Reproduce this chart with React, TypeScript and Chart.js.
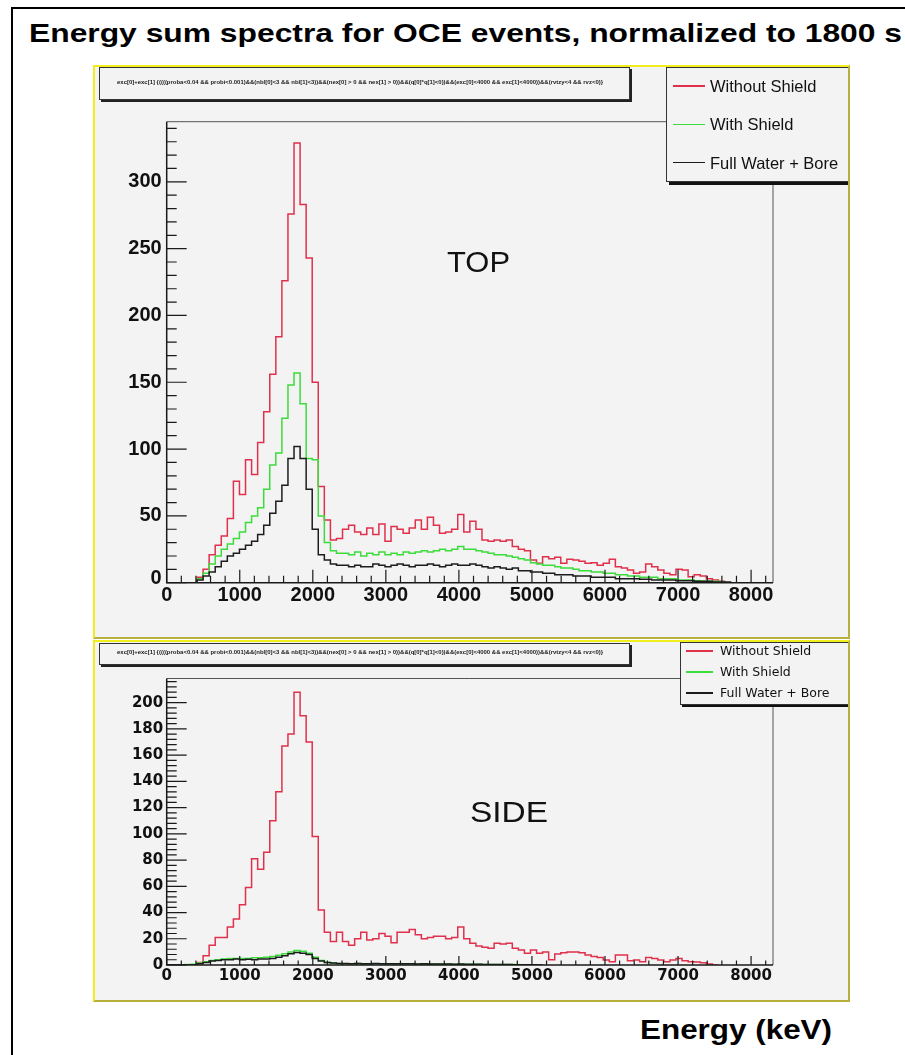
import React, { useEffect, useRef } from "react";
import { Chart, registerables } from "chart.js";

Chart.register(...registerables);

// ---------- data ----------
const BIN_WIDTH_KEV = 83;
const X_MAX = 8300;
const X_TICKS = [0, 1000, 2000, 3000, 4000, 5000, 6000, 7000, 8000];
const TOP_Y_TICKS = [0, 50, 100, 150, 200, 250, 300];
const SIDE_Y_TICKS = [0, 20, 40, 60, 80, 100, 120, 140, 160, 180, 200];
const TOP_Y_MAX = 345;
const SIDE_Y_MAX = 218.4;

const SERIES_NAMES = ["Without Shield", "With Shield", "Full Water + Bore"];
const SERIES_COLORS = ["#e0304c", "#3cdc3c", "#1c1c1c"];

const TITLE = "Energy sum spectra for OCE events, normalized to 1800 s";
const X_TITLE = "Energy (keV)";
const TOP_LABEL = "TOP";
const SIDE_LABEL = "SIDE";
const CUT_TEXT =
  "exc[0]+exc[1] {((((proba<0.04 && probi<0.001)&&(nbl[0]<3 && nbl[1]<3))&&(nex[0] > 0 && nex[1] > 0))&&(q[0]*q[1]<0))&&(exc[0]<4000 && exc[1]<4000))&&(rvtzy<4 && rvz<0)}";

// counts per 83 keV bin, starting at bin 0
const TOP_WITHOUT_SHIELD = [
  0, 0, 0, 0, 0, 4, 10, 21, 28, 35, 48, 76, 66, 92, 81, 105, 128, 156, 184, 226,
  276, 329, 283, 243, 150, 72, 47, 32, 33, 40, 43, 38, 36, 41, 36, 44, 31, 42, 40, 37,
  41, 47, 40, 49, 43, 37, 38, 40, 51, 38, 46, 40, 32, 31, 32, 31, 32, 27, 25, 24,
  17, 14.5, 19.5, 18, 19, 14.5, 17.5, 17, 16, 14.5, 15, 13, 14.5, 17.5, 12, 11, 9.5, 7, 8, 14,
  12, 9.5, 7, 6, 10, 9.5, 4.5, 6, 5, 3, 2, 1, 0,
];
const TOP_WITH_SHIELD = [
  0, 0, 0, 0, 0, 3, 7, 14, 20, 25, 29, 33, 38, 45, 50, 56, 70, 88, 97, 123,
  148, 157, 134, 93, 92, 50, 30, 24, 22, 22, 21, 23, 20, 22, 21, 23, 21, 22, 21, 23,
  22, 23, 24, 23, 24, 25, 24, 25, 27, 25, 25, 24, 23, 22, 21, 21, 20, 19, 18, 17,
  15, 14, 13, 13, 12, 11, 11, 10, 9, 9, 8, 8, 7, 7, 6, 6, 5, 5, 4, 4,
  4, 3, 3, 3, 2, 2, 2, 1.5, 1, 1, 1, 0.5, 0,
];
const TOP_FULL_WATER_BORE = [
  0, 0, 0, 0, 0, 2, 5, 8, 12, 16, 20, 22, 25, 28, 31, 36, 43, 52, 61, 73,
  93, 102, 93, 70, 40, 21, 17, 14, 13, 13, 12, 13, 12, 12, 14, 13, 12, 13, 14, 13,
  12, 13, 13, 14, 13, 12, 13, 14, 13, 13, 14, 13, 12, 11, 12, 11, 10, 11, 9, 9,
  8, 8, 7, 7, 6, 6, 6, 5, 5, 5, 4, 4, 4, 4, 3, 3, 3, 3, 2.5, 2.5,
  2, 2, 2, 2, 1.5, 1.5, 1.5, 1, 1, 1, 0.5, 0.5, 0.5, 0,
];

const SIDE_WITHOUT_SHIELD = [
  0, 0, 0, 0, 0, 2, 7, 15, 21, 21, 29, 35, 46, 59, 81, 73, 86, 110, 132, 167,
  176, 208, 190, 170, 98, 42, 25, 18, 25, 18, 15, 20, 25, 19, 20, 24, 22, 17, 25, 25,
  27, 23, 20, 21, 22, 22, 20, 21, 29, 20, 16.5, 14.5, 13.5, 12.7, 16.5, 16, 16.5, 12.7, 11.4, 9,
  11.4, 9, 10, 4, 8.4, 9.4, 10, 10, 9.4, 7.6, 6.4, 5.8, 3.8, 2.5, 7.6, 7.6, 3.3, 3.8, 2.5, 5.8,
  5, 3.8, 2.5, 3.8, 5, 3.3, 2.5, 2.3, 1.8, 0.8, 0,
];
const SIDE_WITH_SHIELD = [
  0, 0, 0, 0.3, 0.6, 1.5, 2.5, 3.5, 4, 4.5, 5, 5, 5, 5, 5.5, 5.5, 6, 6.5, 7.5, 8.5,
  10, 11, 10.5, 9, 6, 3.5, 2, 1.5, 1.2, 1, 1, 1.1, 1, 0.9, 1, 0.9, 1, 0.8, 0.9, 0.8,
  0.9, 0.8, 0.7, 0.8, 0.7, 0.6, 0.7, 0.6, 0.8, 0.6, 0.5, 0.5, 0.4, 0.4, 0.4, 0.3, 0.3, 0.3, 0.2, 0.2,
  0.2, 0,
];
const SIDE_FULL_WATER_BORE = [
  0, 0, 0, 0, 0, 1, 2, 3, 3.5, 4, 4, 4.5, 4, 4.3, 4, 4.5, 4.5, 5, 6, 7,
  8.5, 9.5, 9, 8, 5, 3, 2, 1.5, 1.2, 1.2, 1, 1.1, 1, 1, 1.1, 1, 0.9, 1, 0.9, 1,
  0.9, 0.8, 0.9, 0.8, 0.7, 0.8, 0.7, 0.6, 0.7, 0.6, 0.5, 0.5, 0.4, 0.4, 0.3, 0.3, 0.3, 0.2, 0.2, 0.2,
  0.1, 0,
];

// ---------- helpers ----------
// point k sits on the low edge of bin k; with Chart.js "before" stepping the
// horizontal segment [x_k, x_k+1] is drawn at the value of bin k.
function toSteps(values: number[]) {
  const pts = values.map((v, k) => ({ x: k * BIN_WIDTH_KEV, y: v }));
  pts.push({ x: values.length * BIN_WIDTH_KEV, y: values[values.length - 1] });
  return pts;
}

type AxisStyle = {
  font: string;
  yTicks: number[];
  yMinorStep: number;
  xMinorStep: number;
  yMajorLen: number;
  yMinorLen: number;
  xMajorLen: number;
  xMinorLen: number;
  yLabelGap: number;
  xLabelOffset: number;
  zeroShift: number;
};

function rootAxesPlugin(st: AxisStyle) {
  return {
    id: "rootAxes",
    afterDatasetsDraw(chart: any) {
      const { ctx, chartArea: a, scales } = chart;
      const xs = scales.x;
      const ys = scales.y;
      ctx.save();
      // frame (top & right)
      ctx.strokeStyle = "#555";
      ctx.lineWidth = 1;
      ctx.beginPath();
      ctx.moveTo(a.left, a.top);
      ctx.lineTo(a.right, a.top);
      ctx.lineTo(a.right, a.bottom);
      ctx.stroke();
      // axes
      ctx.strokeStyle = "#1a1a1a";
      ctx.lineWidth = 1.5;
      ctx.beginPath();
      ctx.moveTo(a.left, a.top);
      ctx.lineTo(a.left, a.bottom);
      ctx.lineTo(a.right, a.bottom);
      ctx.stroke();
      // y ticks
      ctx.lineWidth = 1.2;
      ctx.beginPath();
      const nY = Math.floor(ys.max / st.yMinorStep + 1e-6);
      for (let i = 0; i <= nY; i++) {
        const v = i * st.yMinorStep;
        const py = ys.getPixelForValue(v);
        const len = st.yTicks.includes(v) ? st.yMajorLen : st.yMinorLen;
        ctx.moveTo(a.left, py);
        ctx.lineTo(a.left + len, py);
      }
      // x ticks
      const nX = Math.floor(xs.max / st.xMinorStep + 1e-6);
      for (let i = 0; i <= nX; i++) {
        const v = i * st.xMinorStep;
        const px = xs.getPixelForValue(v);
        const len = X_TICKS.includes(v) ? st.xMajorLen : st.xMinorLen;
        ctx.moveTo(px, a.bottom);
        ctx.lineTo(px, a.bottom - len);
      }
      ctx.stroke();
      // labels
      ctx.fillStyle = "#111";
      ctx.font = st.font;
      ctx.textAlign = "right";
      ctx.textBaseline = "middle";
      for (const v of st.yTicks) {
        ctx.fillText(String(v), a.left - st.yLabelGap, ys.getPixelForValue(v) + (v === 0 ? st.zeroShift : 0));
      }
      ctx.textAlign = "center";
      for (const v of X_TICKS) {
        ctx.fillText(String(v), xs.getPixelForValue(v), a.bottom + st.xLabelOffset);
      }
      ctx.restore();
    },
  };
}

type Series = { name: string; color: string; values: number[] };

function HistChart(props: {
  width: number;
  height: number;
  padding: { left: number; right: number; top: number; bottom: number };
  yMax: number;
  series: Series[];
  axis: AxisStyle;
}) {
  const ref = useRef<HTMLCanvasElement>(null);
  useEffect(() => {
    if (!ref.current) return;
    const chart = new Chart(ref.current, {
      type: "line",
      data: {
        datasets: props.series.map((s, i) => ({
          label: s.name,
          data: toSteps(s.values),
          borderColor: s.color,
          backgroundColor: s.color,
          borderWidth: 1.5,
          pointRadius: 0,
          stepped: "before",
          fill: false,
          tension: 0,
          order: props.series.length - i,
        })),
      } as any,
      options: {
        animation: false,
        responsive: false,
        events: [],
        layout: { padding: props.padding },
        plugins: {
          legend: { display: false },
          tooltip: { enabled: false },
          title: { display: false },
        },
        scales: {
          x: { type: "linear", min: 0, max: X_MAX, display: false },
          y: { type: "linear", min: 0, max: props.yMax, display: false },
        },
      } as any,
      plugins: [rootAxesPlugin(props.axis)],
    });
    return () => chart.destroy();
  }, []);
  return (
    <canvas
      ref={ref}
      width={props.width}
      height={props.height}
      style={{ position: "absolute", left: 0, top: 0, width: props.width, height: props.height }}
    />
  );
}

let measureCtx: CanvasRenderingContext2D | null = null;
function measure(text: string, font: string) {
  if (!measureCtx) measureCtx = document.createElement("canvas").getContext("2d");
  if (!measureCtx) return 0;
  measureCtx.font = font;
  return measureCtx.measureText(text).width;
}

function FitText(props: {
  text: string;
  font: string;
  size: number;
  left: number;
  top: number;
  width?: number;
  color?: string;
}) {
  let scale = 1;
  if (props.width) {
    const w = measure(props.text, props.font);
    if (w > 0) scale = props.width / w;
  }
  return (
    <div
      style={{
        position: "absolute",
        left: props.left,
        top: props.top,
        font: props.font,
        lineHeight: `${props.size}px`,
        whiteSpace: "nowrap",
        color: props.color || "#000",
        transform: `scaleX(${scale})`,
        transformOrigin: "left top",
      }}
    >
      {props.text}
    </div>
  );
}

const PANEL_BG = "#f3f3f3";

function PanelBorder() {
  return (
    <div
      style={{
        position: "absolute",
        inset: 0,
        boxSizing: "border-box",
        borderTop: "2px solid #f2ee1c",
        borderLeft: "2px solid #f2ee1c",
        borderBottom: "2px solid #b8b03c",
        borderRight: "2px solid #b8b03c",
        pointerEvents: "none",
      }}
    />
  );
}

function LegendLine(props: { left: number; cy: number; width: number; color: string }) {
  return (
    <div
      style={{
        position: "absolute",
        left: props.left,
        top: props.cy - 0.75,
        width: props.width,
        height: 1.5,
        background: props.color,
      }}
    />
  );
}

export default function App() {
  const topSeries: Series[] = [
    { name: SERIES_NAMES[0], color: SERIES_COLORS[0], values: TOP_WITHOUT_SHIELD },
    { name: SERIES_NAMES[1], color: SERIES_COLORS[1], values: TOP_WITH_SHIELD },
    { name: SERIES_NAMES[2], color: SERIES_COLORS[2], values: TOP_FULL_WATER_BORE },
  ];
  const sideSeries: Series[] = [
    { name: SERIES_NAMES[0], color: SERIES_COLORS[0], values: SIDE_WITHOUT_SHIELD },
    { name: SERIES_NAMES[1], color: SERIES_COLORS[1], values: SIDE_WITH_SHIELD },
    { name: SERIES_NAMES[2], color: SERIES_COLORS[2], values: SIDE_FULL_WATER_BORE },
  ];

  const topAxis: AxisStyle = {
    font: 'bold 20px "Liberation Sans", Arial, sans-serif',
    yTicks: TOP_Y_TICKS,
    yMinorStep: 10,
    xMinorStep: 200,
    yMajorLen: 20,
    yMinorLen: 10,
    xMajorLen: 13,
    xMinorLen: 7,
    yLabelGap: 5,
    xLabelOffset: 13,
    zeroShift: -4,
  };
  const sideAxis: AxisStyle = {
    font: 'bold 15px "DejaVu Sans", sans-serif',
    yTicks: SIDE_Y_TICKS,
    yMinorStep: 4,
    xMinorStep: 200,
    yMajorLen: 20,
    yMinorLen: 10,
    xMajorLen: 9,
    xMinorLen: 4.5,
    yLabelGap: 3.5,
    xLabelOffset: 11,
    zeroShift: 0,
  };

  const legendFontTop = '16.5px "Liberation Sans", Arial, sans-serif';
  const legendFontSide = '12.5px "DejaVu Sans", sans-serif';
  const cutFont = 'bold 6px "Liberation Sans", Arial, sans-serif';

  return (
    <div
      style={{
        position: "fixed",
        left: 0,
        top: 0,
        width: 905,
        height: 1055,
        overflow: "hidden",
        background: "#fff",
      }}
    >
      {/* outer frame */}
      <div
        style={{
          position: "absolute",
          left: 11,
          top: 7,
          width: 1000,
          height: 1200,
          border: "2px solid #000",
        }}
      />
      <FitText
        text={TITLE}
        font='bold 25px "Liberation Sans", Arial, sans-serif'
        size={25}
        left={29}
        top={21.3}
        width={873}
      />

      {/* TOP panel */}
      <div
        style={{
          position: "absolute",
          left: 93,
          top: 65,
          width: 757,
          height: 574,
          overflow: "hidden",
          background: PANEL_BG,
        }}
      >
        <HistChart
          width={757}
          height={574}
          padding={{ left: 73.7, right: 77, top: 56.7, bottom: 56.3 }}
          yMax={TOP_Y_MAX}
          series={topSeries}
          axis={topAxis}
        />
        <div
          style={{
            position: "absolute",
            left: 6,
            top: 2,
            width: 531,
            height: 33,
            boxSizing: "border-box",
            border: "1px solid #333",
            background: PANEL_BG,
            boxShadow: "2px 2px 0 #222",
          }}
        />
        <FitText text={CUT_TEXT} font={cutFont} size={6} left={24} top={14} width={486} color="#222" />
        <div
          style={{
            position: "absolute",
            left: 573,
            top: 2,
            width: 200,
            height: 115,
            boxSizing: "border-box",
            border: "1px solid #333",
            background: PANEL_BG,
            boxShadow: "3px 3px 0 #111",
          }}
        />
        {[21, 59.3, 97.7].map((cy, i) => (
          <React.Fragment key={i}>
            <LegendLine left={580} cy={cy} width={32} color={SERIES_COLORS[i]} />
            <FitText text={SERIES_NAMES[i]} font={legendFontTop} size={16.5} left={617} top={cy - 8.05} color="#111" />
          </React.Fragment>
        ))}
        <FitText text={TOP_LABEL} font='30px "Liberation Sans", Arial, sans-serif' size={30} left={354} top={181.6} width={63} color="#111" />
        <PanelBorder />
      </div>

      {/* SIDE panel */}
      <div
        style={{
          position: "absolute",
          left: 93,
          top: 640,
          width: 757,
          height: 362,
          overflow: "hidden",
          background: PANEL_BG,
        }}
      >
        <HistChart
          width={757}
          height={362}
          padding={{ left: 73.7, right: 77, top: 38.5, bottom: 37 }}
          yMax={SIDE_Y_MAX}
          series={sideSeries}
          axis={sideAxis}
        />
        <div
          style={{
            position: "absolute",
            left: 6,
            top: 3,
            width: 531,
            height: 22,
            boxSizing: "border-box",
            border: "1px solid #333",
            background: PANEL_BG,
            boxShadow: "2px 2px 0 #222",
          }}
        />
        <FitText text={CUT_TEXT} font={cutFont} size={6} left={24} top={9} width={486} color="#222" />
        <div
          style={{
            position: "absolute",
            left: 587,
            top: 2,
            width: 200,
            height: 63,
            boxSizing: "border-box",
            border: "1px solid #333",
            background: PANEL_BG,
            boxShadow: "2px 2px 0 #111",
          }}
        />
        {[11, 32, 53].map((cy, i) => (
          <React.Fragment key={i}>
            <LegendLine left={593} cy={cy} width={27} color={SERIES_COLORS[i]} />
            <FitText text={SERIES_NAMES[i]} font={legendFontSide} size={12.5} left={627} top={cy - 6} color="#111" />
          </React.Fragment>
        ))}
        <FitText text={SIDE_LABEL} font='30px "Liberation Sans", Arial, sans-serif' size={30} left={377} top={156.6} width={78} color="#111" />
        <PanelBorder />
      </div>

      <FitText
        text={X_TITLE}
        font='bold 28px "Liberation Sans", Arial, sans-serif'
        size={28}
        left={640}
        top={1016.3}
        width={192}
      />
    </div>
  );
}
